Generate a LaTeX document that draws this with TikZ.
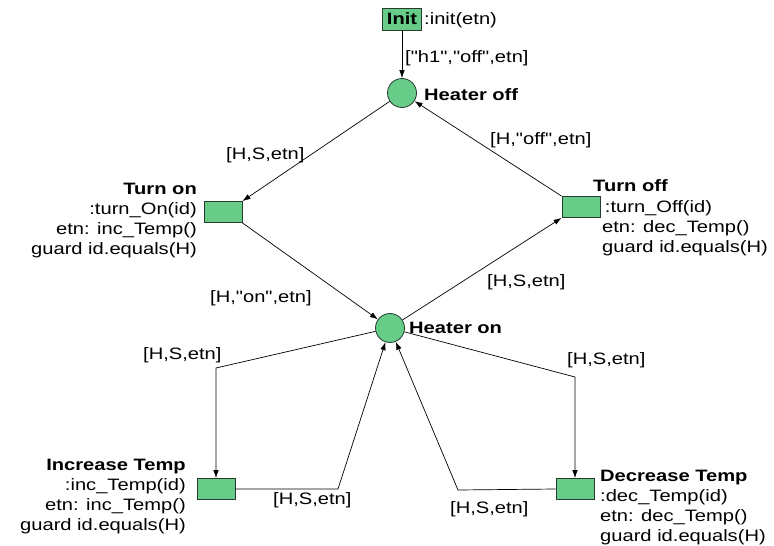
\documentclass[tikz,border=0pt]{standalone}
\usepackage{fontspec}
\setmainfont[FakeStretch=1.22,Ligatures=TeXOff]{Liberation Sans}
\usetikzlibrary{arrows.meta}
\definecolor{pgreen}{RGB}{102,204,136}
\definecolor{pborder}{RGB}{40,60,45}
\begin{document}
\begin{tikzpicture}[x=1pt,y=-1pt,
  font=\fontsize{16.5}{20}\selectfont,
  place/.style={circle,draw=pborder,fill=pgreen,minimum size=29pt,inner sep=0pt,line width=0.8pt},
  trans/.style={rectangle,draw=pborder,fill=pgreen,minimum width=38pt,minimum height=21pt,inner sep=0pt,line width=0.8pt},
  arc/.style={-{Latex[length=8pt,width=5.5pt]},line width=0.7pt},
  lbl/.style={inner sep=0pt,anchor=west},
  rtxt/.style={inner sep=0pt,anchor=east,align=right},
  ltxt/.style={inner sep=0pt,anchor=west,align=left}]
\useasboundingbox (0,0) rectangle (774,546);

% places
\node[place] (hoff) at (402,93) {};
\node[lbl] (hoffl) at (424,95) {\textbf{Heater off}};
\node[place] (hon) at (390,328) {};
\node[lbl] (honl) at (409,328) {\textbf{Heater on}};

% transitions
\node[trans,minimum width=39pt,minimum height=22pt] (init) at (402,19) {\textbf{Init}};
\node[lbl] (initl) at (424,20) {:init(etn)};

\node[trans] (ton) at (223,212) {};
\node[rtxt] (tonl) at (197,221) {\textbf{Turn on}\\:turn\_On(id)\\etn: inc\_Temp()\\guard id.equals(H)};

\node[trans] (toff) at (581,207) {};
\node[lbl] (toffa) at (593,186) {\textbf{Turn off}};
\node[ltxt] (toffb) at (602,228) {\,:turn\_Off(id)\\etn: dec\_Temp()\\guard id.equals(H)};

\node[trans] (inc) at (216,489) {};
\node[rtxt] (incl) at (186,497) {\textbf{Increase Temp}\\:inc\_Temp(id)\\etn: inc\_Temp()\\guard id.equals(H)};

\node[trans] (dec) at (575,489) {};
\node[ltxt] (decl) at (600,508) {\textbf{Decrease Temp}\\:dec\_Temp(id)\\etn: dec\_Temp()\\guard id.equals(H)};

% arc labels
\node[lbl] (a1) at (405,58) {["h1","off",etn]};
\node[lbl] (a2) at (226,155) {[H,S,etn]};
\node[lbl] (a3) at (490,140) {[H,"off",etn]};
\node[lbl] (a4) at (210,298) {[H,"on",etn]};
\node[lbl] (a5) at (487,282) {[H,S,etn]};
\node[lbl] (a6) at (143,355) {[H,S,etn]};
\node[lbl] (a7) at (567,360) {[H,S,etn]};
\node[lbl] (a8) at (273,500) {[H,S,etn]};
\node[lbl] (a9) at (450,509) {[H,S,etn]};

% bend points
\coordinate (c1) at (216,368);
\coordinate (c2) at (338,489);
\coordinate (c3) at (575,377);
\coordinate (c4) at (458,490);

% connectors
\draw[arc] (init) -- (hoff);
\draw[arc] (hoff) -- (ton.north east);
\draw[arc] (ton.south east) -- (hon);
\draw[arc] (hon) -- (toff.south west);
\draw[arc] (toff.north west) -- (hoff);
\draw[arc] (hon) -- (c1) -- (inc.north);
\draw[arc] (inc.east) -- (c2) -- (hon);
\draw[arc] (hon) -- (c3) -- (dec.north);
\draw[arc] (dec.west) -- (c4) -- (hon);
\end{tikzpicture}
\end{document}
